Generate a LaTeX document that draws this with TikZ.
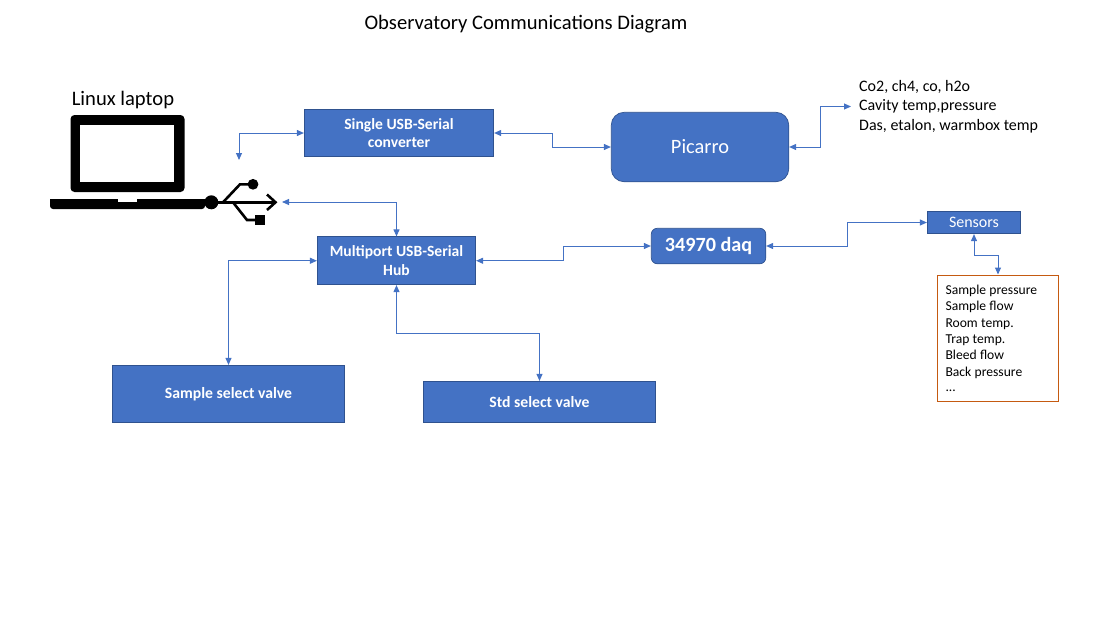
\documentclass[tikz,border=0pt]{standalone}
\usepackage{fontspec}
\setmainfont{Carlito}
\usetikzlibrary{arrows.meta}
\definecolor{boxblue}{HTML}{4472C4}
\definecolor{boxedge}{HTML}{2F528F}
\definecolor{listedge}{HTML}{C55A11}
\newcommand{\fsize}[1]{\fontsize{#1}{#1}\selectfont}
\tikzset{
	block/.style={draw=boxedge, fill=boxblue, text=white, line width=0.7pt, align=center, inner sep=0pt},
	link/.style={draw=boxblue, line width=1pt, {Triangle[length=7pt,width=6pt]}-{Triangle[length=7pt,width=6pt]}},
	usbline/.style={draw=black, line width=2.6pt}
}
\begin{document}
\begin{tikzpicture}[x=1pt,y=-1pt]
	\useasboundingbox (0,0) rectangle (1100,619);

	\node (title) at (526,24.5) {\fsize{20.6}Observatory Communications Diagram};
	\node (laptoplabel) at (123,100.5) {\fsize{20.6}Linux laptop};

	% laptop
	\fill[black, rounded corners=4pt] (70.5,115) rectangle (184.5,192);
	\fill[white] (80,125) rectangle (174,182);
	\fill[black, rounded corners=3pt] (50,199) -- (205,199) -- (205,209) -- (50,209) -- cycle;
	\fill[black] (50,199) rectangle (205,203);
	\fill[white] (117.5,199) rectangle (136.5,202.3);

	% usb symbol
	\fill[black] (211.3,202.3) circle (7);
	\draw[usbline] (211,202.3) -- (274,202.3);
	\draw[usbline, line join=miter] (267,194.5) -- (275.5,202.3) -- (267,210);
	\draw[usbline] (223,202.3) -- (240,184.3) -- (253,184.3);
	\fill[black] (253,184.3) circle (5.4);
	\draw[usbline] (233,202.3) -- (247,220) -- (258,220);
	\fill[black] (255,215) rectangle (265,225);

	% boxes
	\node[block, minimum width=189.5pt, minimum height=47.5pt] (single) at (399,133) {\fsize{15.6}\bfseries Single USB-Serial\\[5.2pt]\fsize{15.6}\bfseries converter};
	\node[block, minimum width=177.5pt, minimum height=69.5pt, rounded corners=13pt] (picarro) at (700,147) {\fsize{20.4}Picarro};
	\node[block, minimum width=158.5pt, minimum height=48pt] (multi) at (396.5,260.75) {\fsize{15.6}\bfseries Multiport USB-Serial\\[4.4pt]\fsize{15.6}\bfseries Hub};
	\node[block, minimum width=114.5pt, minimum height=35.5pt, rounded corners=6pt] (daq) at (708.5,246) {\fsize{20.2}\bfseries 34970 daq};
	\node[block, minimum width=93.5pt, minimum height=22.5pt] (sensors) at (974,222.5) {\fsize{16}Sensors};
	\node[block, minimum width=232.5pt, minimum height=57.5pt] (samplevalve) at (228.5,394) {\fsize{15.7}\bfseries Sample select valve};
	\node[block, minimum width=231.5pt, minimum height=41.5pt] (stdvalve) at (539.5,402) {\fsize{15.7}\bfseries Std select valve};

	% text lists
	\node[anchor=west, align=left, inner sep=0pt, inner xsep=8pt] (picarrolist) at (851,106.5) {\fsize{16}Co2, ch4, co, h2o\\[5.1pt]\fsize{16}Cavity temp,pressure\\[5.1pt]\fsize{16}Das, etalon, warmbox temp};
	\node[draw=listedge, line width=1pt, minimum width=121pt, minimum height=126pt, align=left, inner sep=0pt, text width=105pt] (sensorlist) at (998,338) {\fsize{13.6}Sample pressure\\[2.8pt]\fsize{13.6}Sample flow\\[2.8pt]\fsize{13.6}Room temp.\\[2.8pt]\fsize{13.6}Trap temp.\\[2.8pt]\fsize{13.6}Bleed flow\\[2.8pt]\fsize{13.6}Back pressure\\[2.8pt]\fsize{13.6}...};

	% free ends
	\coordinate (laptopend) at (239,160);
	\coordinate (usbend) at (282,202);

	% connectors
	\draw[link] (single.west) -| (laptopend);
	\draw[link] (single.east) -- ++(58,0) |- (picarro.west);
	\draw[link] (picarro.east) -- ++(31,0) |- (picarrolist.west);
	\draw[link] (usbend) -| (multi.north);
	\draw[link] (multi.west) -| (samplevalve.north);
	\draw[link] (multi.south) -- ++(0,48) -| (stdvalve.north);
	\draw[link] (multi.east) -- ++(87,0) |- (daq.west);
	\draw[link] (daq.east) -- ++(81,0) |- (sensors.west);
	\draw[link] (sensors.south) -- ++(0,21) -| (sensorlist.north);

\end{tikzpicture}
\end{document}
